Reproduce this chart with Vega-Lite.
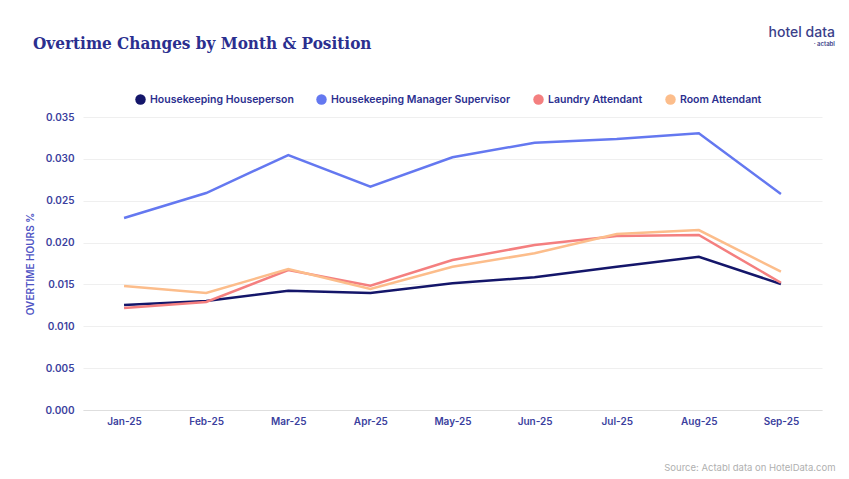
{
  "$schema": "https://vega.github.io/schema/vega-lite/v6.json",
  "width": 739,
  "height": 293,
  "autosize": {"type": "none"},
  "padding": {"left": 83, "top": 117, "right": 27, "bottom": 69},
  "background": "white",
  "config": {"view": {"stroke": null}},
  "title": {
    "text": "Overtime Changes by Month & Position",
    "anchor": "start",
    "frame": "group",
    "font": "DejaVu Serif Condensed",
    "fontSize": 17,
    "fontWeight": "bold",
    "color": "#2b2f8f",
    "dx": -50,
    "offset": -27
  },
  "data": {
    "values": [
      {"month": "Jan-25", "position": "Housekeeping Houseperson", "value": 0.01254},
      {"month": "Feb-25", "position": "Housekeeping Houseperson", "value": 0.01302},
      {"month": "Mar-25", "position": "Housekeeping Houseperson", "value": 0.01425},
      {"month": "Apr-25", "position": "Housekeeping Houseperson", "value": 0.01398},
      {"month": "May-25", "position": "Housekeeping Houseperson", "value": 0.01513},
      {"month": "Jun-25", "position": "Housekeeping Houseperson", "value": 0.01585},
      {"month": "Jul-25", "position": "Housekeeping Houseperson", "value": 0.01712},
      {"month": "Aug-25", "position": "Housekeeping Houseperson", "value": 0.01831},
      {"month": "Sep-25", "position": "Housekeeping Houseperson", "value": 0.01505},
      {"month": "Jan-25", "position": "Housekeeping Manager Supervisor", "value": 0.02293},
      {"month": "Feb-25", "position": "Housekeeping Manager Supervisor", "value": 0.02592},
      {"month": "Mar-25", "position": "Housekeeping Manager Supervisor", "value": 0.03046},
      {"month": "Apr-25", "position": "Housekeeping Manager Supervisor", "value": 0.02667},
      {"month": "May-25", "position": "Housekeeping Manager Supervisor", "value": 0.03019},
      {"month": "Jun-25", "position": "Housekeeping Manager Supervisor", "value": 0.03193},
      {"month": "Jul-25", "position": "Housekeeping Manager Supervisor", "value": 0.03237},
      {"month": "Aug-25", "position": "Housekeeping Manager Supervisor", "value": 0.03305},
      {"month": "Sep-25", "position": "Housekeeping Manager Supervisor", "value": 0.0258},
      {"month": "Jan-25", "position": "Laundry Attendant", "value": 0.01218},
      {"month": "Feb-25", "position": "Laundry Attendant", "value": 0.0129},
      {"month": "Mar-25", "position": "Laundry Attendant", "value": 0.01672},
      {"month": "Apr-25", "position": "Laundry Attendant", "value": 0.01485},
      {"month": "May-25", "position": "Laundry Attendant", "value": 0.01792},
      {"month": "Jun-25", "position": "Laundry Attendant", "value": 0.01971},
      {"month": "Jul-25", "position": "Laundry Attendant", "value": 0.02078},
      {"month": "Aug-25", "position": "Laundry Attendant", "value": 0.0209},
      {"month": "Sep-25", "position": "Laundry Attendant", "value": 0.0152},
      {"month": "Jan-25", "position": "Room Attendant", "value": 0.01481},
      {"month": "Feb-25", "position": "Room Attendant", "value": 0.01398},
      {"month": "Mar-25", "position": "Room Attendant", "value": 0.01684},
      {"month": "Apr-25", "position": "Room Attendant", "value": 0.01445},
      {"month": "May-25", "position": "Room Attendant", "value": 0.01712},
      {"month": "Jun-25", "position": "Room Attendant", "value": 0.01872},
      {"month": "Jul-25", "position": "Room Attendant", "value": 0.02102},
      {"month": "Aug-25", "position": "Room Attendant", "value": 0.0215},
      {"month": "Sep-25", "position": "Room Attendant", "value": 0.01652}
    ]
  },
  "layer": [
    {
      "mark": {"type": "line", "strokeWidth": 2.5},
      "encoding": {
        "x": {
          "field": "month",
          "type": "ordinal",
          "sort": ["Jan-25", "Feb-25", "Mar-25", "Apr-25", "May-25", "Jun-25", "Jul-25", "Aug-25", "Sep-25"],
          "scale": {"type": "point", "padding": 0.5},
          "axis": {
            "labelAngle": 0,
            "ticks": false,
            "domain": true,
            "domainColor": "#dedede",
            "labelFont": "Inter",
            "labelFontSize": 10,
            "labelFontWeight": 600,
            "labelColor": "#3b3f9e",
            "labelPadding": 6,
            "grid": false,
            "title": "Source: Actabl data on HotelData.com",
            "titleFont": "Inter",
            "titleFontSize": 9.5,
            "titleFontWeight": "normal",
            "titleColor": "#b0b0b0",
            "titleAlign": "right",
            "titleAnchor": "end",
            "titleX": 752,
            "titleY": 52
          }
        },
        "y": {
          "field": "value",
          "type": "quantitative",
          "scale": {"domain": [0, 0.035], "nice": false},
          "axis": {
            "values": [0, 0.005, 0.01, 0.015, 0.02, 0.025, 0.03, 0.035],
            "format": ".3f",
            "grid": true,
            "gridColor": "#efefef",
            "domain": false,
            "ticks": false,
            "labelPadding": 9,
            "labelFont": "Inter",
            "labelFontSize": 10,
            "labelFontWeight": 600,
            "labelColor": "#3b3f9e",
            "title": "OVERTIME HOURS %",
            "titleFont": "Inter",
            "titleFontSize": 10,
            "titleFontWeight": 600,
            "titleColor": "#4f55c4",
            "titlePadding": 9
          }
        },
        "color": {
          "field": "position",
          "type": "nominal",
          "scale": {
            "domain": ["Housekeeping Houseperson", "Housekeeping Manager Supervisor", "Laundry Attendant", "Room Attendant"],
            "range": ["#14166a", "#6478f0", "#f47f7f", "#fcbd8b"]
          },
          "legend": {
            "orient": "none",
            "legendX": 52,
            "legendY": -23,
            "direction": "horizontal",
            "title": null,
            "symbolType": "circle",
            "symbolSize": 110,
            "symbolStrokeWidth": 0,
            "symbolOpacity": 1,
            "labelFont": "Inter",
            "labelFontSize": 10.5,
            "labelFontWeight": 600,
            "labelColor": "#2b2f8f",
            "labelLimit": 400,
            "columnPadding": 22,
            "encode": {
              "symbols": {
                "update": {
                  "fill": {"scale": "color", "field": "value"},
                  "strokeWidth": {"value": 0}
                }
              }
            }
          }
        }
      }
    },
    {
      "data": {"values": [{"logo": "hotel data"}]},
      "mark": {"type": "text", "font": "Inter", "fontSize": 14, "fontWeight": 500, "color": "#3b3f8a", "align": "right", "dx": 54, "dy": -84},
      "encoding": {
        "text": {"field": "logo"},
        "x": {"datum": "Sep-25"},
        "y": {"datum": 0.035}
      }
    },
    {
      "data": {"values": [{"logo": "· actabl"}]},
      "mark": {"type": "text", "font": "Inter", "fontSize": 6, "fontWeight": 600, "color": "#3b3f8a", "align": "right", "dx": 54, "dy": -73},
      "encoding": {
        "text": {"field": "logo"},
        "x": {"datum": "Sep-25"},
        "y": {"datum": 0.035}
      }
    }
  ]
}
